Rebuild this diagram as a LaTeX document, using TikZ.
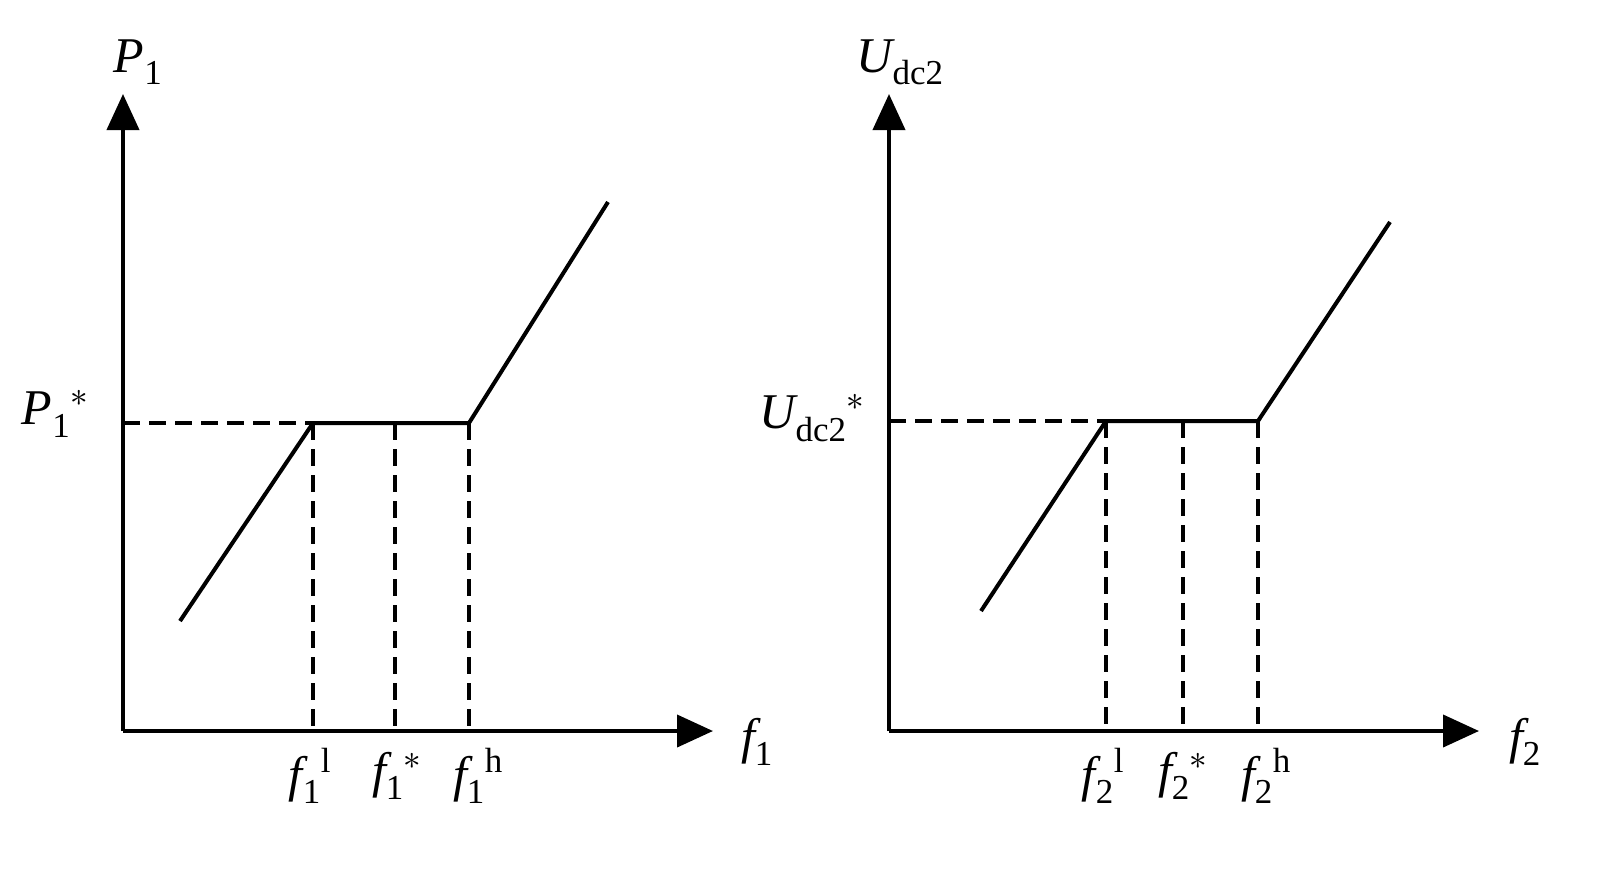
\documentclass[tikz,border=0pt]{standalone}
\usepackage{fontspec}
\usepackage{unicode-math}
\setmainfont{Liberation Serif}
\setmathfont{Latin Modern Math}
\setmathfont[range=it]{Liberation Serif Italic}
\setmathfont[range=up]{Liberation Serif}
\usetikzlibrary{arrows.meta}
\begin{document}
\begin{tikzpicture}[x=1pt,y=-1pt,
  ax/.style={line width=4pt,-{Triangle[length=36pt,width=32pt]}},
  cur/.style={line width=4pt},
  dsh/.style={line width=3.5pt,dash pattern=on 17pt off 9pt},
  lab/.style={font=\fontsize{50}{54}\selectfont,inner sep=0pt}]
\useasboundingbox (0,0) rectangle (1608,868);
% left
\coordinate (o1) at (123,731);
\draw[ax] (o1) -- (123,94);
\draw[ax] (o1) -- (713,731);
\coordinate (a1) at (180,621); \coordinate (b1) at (313,423);
\coordinate (c1) at (469,423); \coordinate (d1) at (608,202);
\draw[cur] (a1) -- (b1) -- (c1) -- (d1);
\draw[dsh] (123,423) -- (b1);
\draw[dsh] (b1) -- (313,731);
\draw[dsh] (395,423) -- (395,731);
\draw[dsh] (c1) -- (469,731);
\node[lab] (p1) at (138,62) {$P_1$};
\node[lab] (p1s) at (55,414) {$P_1{}^{*}$};
\node[lab] (f1) at (757,742) {$f_1$};
\node[lab] (f1l) at (310,776) {$f_1{}^{\mathrm{l}}$};
\node[lab] (f1s) at (397,776) {$f_1{}^{*}$};
\node[lab] (f1h) at (478,776) {$f_1{}^{\mathrm{h}}$};
% right
\coordinate (o2) at (889,731);
\draw[ax] (o2) -- (889,94);
\draw[ax] (o2) -- (1479,731);
\coordinate (a2) at (981,611); \coordinate (b2) at (1106,421);
\coordinate (c2) at (1258,421); \coordinate (d2) at (1390,222);
\draw[cur] (a2) -- (b2) -- (c2) -- (d2);
\draw[dsh] (889,421) -- (b2);
\draw[dsh] (b2) -- (1106,731);
\draw[dsh] (1183,421) -- (1183,731);
\draw[dsh] (c2) -- (1258,731);
\node[lab] (u) at (900,62) {$U_{\mathrm{dc2}}$};
\node[lab] (us) at (812,418) {$U_{\mathrm{dc2}}{}^{*}$};
\node[lab] (f2) at (1525,742) {$f_2$};
\node[lab] (f2l) at (1103,776) {$f_2{}^{\mathrm{l}}$};
\node[lab] (f2s) at (1183,776) {$f_2{}^{*}$};
\node[lab] (f2h) at (1266,776) {$f_2{}^{\mathrm{h}}$};
\end{tikzpicture}
\end{document}
